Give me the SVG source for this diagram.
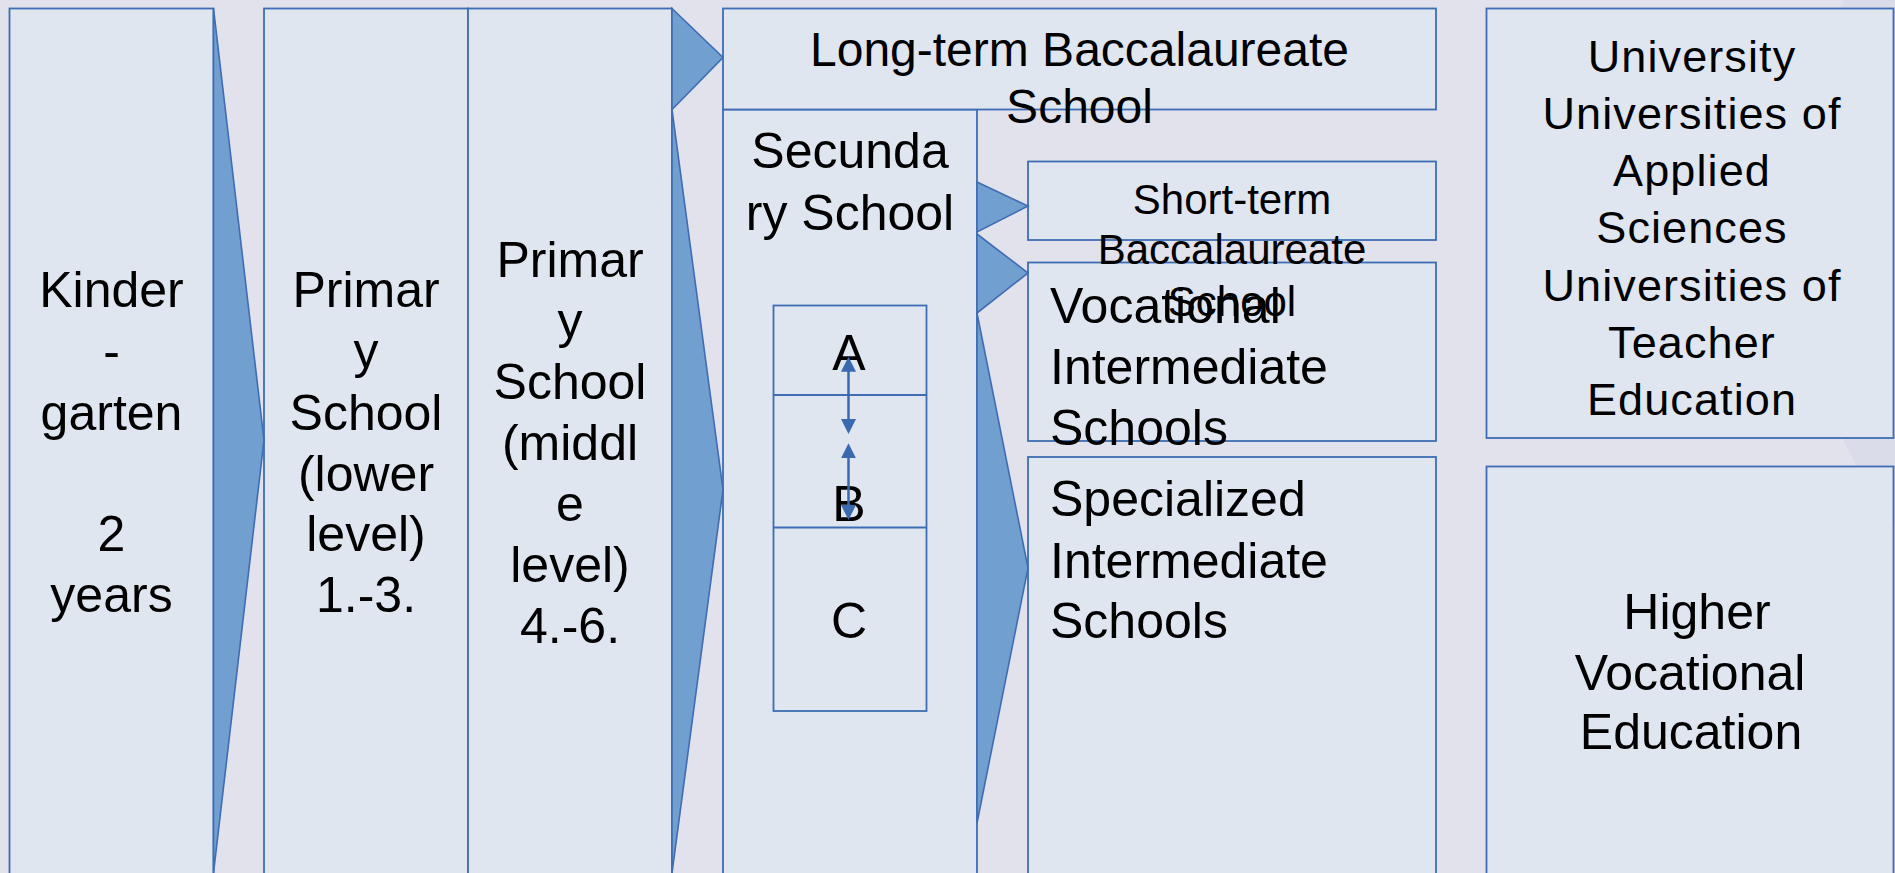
<svg xmlns="http://www.w3.org/2000/svg" width="1895" height="873" viewBox="0 0 1895 873">
<defs>
<style>
.box{fill:#DFE6F0;stroke:#3F6DB3;stroke-width:1.8}
.chev{fill:#719FD0;stroke:#3F6DB3;stroke-width:1.6;stroke-linejoin:miter}
.t{font-family:"Liberation Sans",Arial,sans-serif;font-size:50px;fill:#000}
.c{text-anchor:middle}
.lt{font-size:48px}
.st{font-size:42px}
.un{font-size:45px;letter-spacing:1.1px}
.dbl{stroke:#3A69B0;stroke-width:2.5;fill:none;marker-start:url(#tri);marker-end:url(#tri)}
</style>
<marker id="tri" viewBox="0 0 10 10" refX="8" refY="5" markerUnits="userSpaceOnUse" markerWidth="15" markerHeight="16" orient="auto-start-reverse">
<path d="M0,0 L10,5 L0,10 z" fill="#3A69B0"/>
</marker>
</defs>
<rect x="0" y="0" width="1895" height="873" fill="#E1E2EB"/>
<circle cx="2300" cy="220" r="507" fill="#DADCEA"/>

<g id="kindergarten">
<rect class="box" x="9.5" y="8.5" width="204" height="880"/>
<text class="t c" x="111.5"><tspan x="111.5" y="307">Kinder</tspan><tspan x="111.5" y="368">-</tspan><tspan x="111.5" y="430">garten</tspan><tspan x="111.5" y="551">2</tspan><tspan x="111.5" y="612">years</tspan></text>
</g>

<g id="primary-lower">
<rect class="box" x="264" y="8.5" width="204" height="880"/>
<text class="t c"><tspan x="366" y="307">Primar</tspan><tspan x="366" y="368">y</tspan><tspan x="366" y="430">School</tspan><tspan x="366" y="491">(lower</tspan><tspan x="366" y="551">level)</tspan><tspan x="366" y="612">1.-3.</tspan></text>
</g>

<g id="primary-middle">
<rect class="box" x="468" y="8.5" width="204" height="880"/>
<text class="t c"><tspan x="570" y="277">Primar</tspan><tspan x="570" y="338">y</tspan><tspan x="570" y="399">School</tspan><tspan x="570" y="460">(middl</tspan><tspan x="570" y="521">e</tspan><tspan x="570" y="582">level)</tspan><tspan x="570" y="643">4.-6.</tspan></text>
</g>

<g id="secondary-school">
<rect class="box" x="723" y="109.5" width="254" height="780"/>
<text class="t c"><tspan x="850" y="168">Secunda</tspan><tspan x="850" y="230">ry School</tspan></text>
</g>

<g id="long-term-baccalaureate">
<rect class="box" x="723" y="8.5" width="713" height="101"/>
<text class="t c lt"><tspan x="1079.5" y="66">Long-term Baccalaureate</tspan><tspan x="1079.5" y="122.5">School</tspan></text>
</g>

<g id="abc">
<rect class="box" x="773.5" y="305.5" width="153" height="405.5"/>
<line x1="773.5" y1="395" x2="926.5" y2="395" stroke="#3F6DB3" stroke-width="1.8"/>
<line x1="773.5" y1="527.5" x2="926.5" y2="527.5" stroke="#3F6DB3" stroke-width="1.8"/>
<text class="t c"><tspan x="849" y="370">A</tspan><tspan x="849" y="520.5">B</tspan><tspan x="849" y="637.5">C</tspan></text>
</g>

<g id="vocational-intermediate">
<rect class="box" x="1028" y="262.5" width="408" height="178.5"/>
<text class="t"><tspan x="1050" y="323">Vocational</tspan><tspan x="1050" y="384">Intermediate</tspan><tspan x="1050" y="444.5">Schools</tspan></text>
</g>

<g id="short-term-baccalaureate">
<rect class="box" x="1028" y="161.5" width="408" height="78.5"/>
<text class="t c st"><tspan x="1232" y="214">Short-term</tspan><tspan x="1232" y="263.5">Baccalaureate</tspan><tspan x="1232" y="315.5">School</tspan></text>
</g>

<g id="specialized-intermediate">
<rect class="box" x="1028" y="457" width="408" height="430"/>
<text class="t"><tspan x="1050" y="516">Specialized</tspan><tspan x="1050" y="577.5">Intermediate</tspan><tspan x="1050" y="638">Schools</tspan></text>
</g>

<g id="university">
<rect class="box" x="1486.5" y="8.5" width="407" height="429.5"/>
<text class="t c un"><tspan x="1692" y="71.5">University</tspan><tspan x="1692" y="128.5">Universities of</tspan><tspan x="1692" y="185.5">Applied</tspan><tspan x="1692" y="243">Sciences</tspan><tspan x="1692" y="300.5">Universities of</tspan><tspan x="1692" y="358">Teacher</tspan><tspan x="1692" y="415">Education</tspan></text>
</g>

<g id="higher-vocational">
<rect class="box" x="1486.5" y="466.5" width="407" height="420"/>
<text class="t c"><tspan x="1697" y="629">Higher</tspan><tspan x="1690" y="690">Vocational</tspan><tspan x="1691" y="749">Education</tspan></text>
</g>

<g id="connectors">
<polygon class="chev" points="213.5,8.5 264,440 213.5,873"/>
<polygon class="chev" points="672,8.5 723,57.5 672,109.5"/>
<polygon class="chev" points="672,109.5 723,489.5 672,873"/>
<polygon class="chev" points="977,182 1028,206 977,232"/>
<polygon class="chev" points="977,234 1028,273 977,313"/>
<polygon class="chev" points="977,313 1028,568 977,823"/>
<line class="dbl" x1="848.5" y1="359.7" x2="848.5" y2="431"/>
<line class="dbl" x1="848.5" y1="446.3" x2="848.5" y2="517"/>
</g>
</svg>
